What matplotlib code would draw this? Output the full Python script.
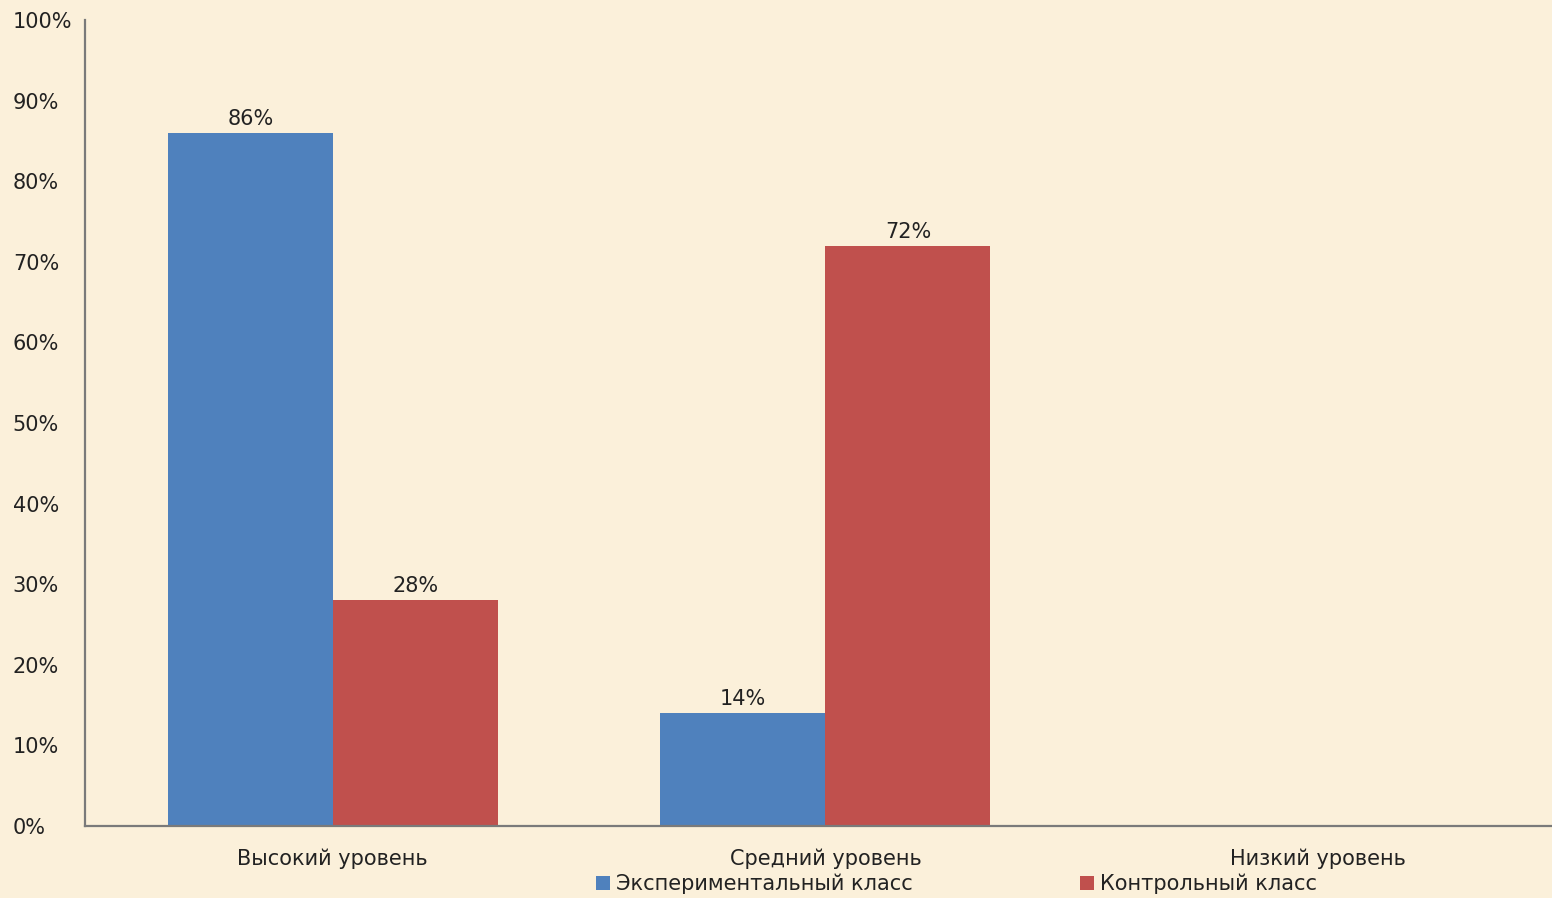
import matplotlib.pyplot as plt
import numpy as np

# Данные диаграммы
categories = ["Высокий уровень", "Средний уровень", "Низкий уровень"]
experimental = [86, 14, 0]
control = [28, 72, 0]
series_names = ["Экспериментальный класс", "Контрольный класс"]
yticks = [0, 10, 20, 30, 40, 50, 60, 70, 80, 90, 100]

plt.rcParams['font.family'] = ['DejaVu Sans']

bg = '#FBF0DA'
blue = '#4F81BD'
red = '#C0504D'
fs = 15

fig = plt.figure(figsize=(15.52, 8.98), dpi=100, facecolor=bg)
ax = fig.add_axes([85 / 1552, 1 - 826 / 898, 1 - 85 / 1552, (826 - 20) / 898])
ax.set_facecolor(bg)

x = np.arange(len(categories))
width = 0.335

bars1 = ax.bar(x - width / 2, experimental, width, color=blue, label=series_names[0])
bars2 = ax.bar(x + width / 2, control, width, color=red, label=series_names[1])

# Подписи значений (без нулевых)
for bars, vals in [(bars1, experimental), (bars2, control)]:
    ax.bar_label(bars, labels=[f'{v}%' if v else '' for v in vals],
                 padding=3, fontsize=fs, color='#222222')

ax.set_xlim(-0.503, 2.475)
ax.set_ylim(0, 100)
ax.set_xticks(x)
ax.set_xticklabels(categories, fontsize=fs, color='#222222')
ax.set_yticks(yticks)
ax.set_yticklabels([f'{t}%' for t in yticks], fontsize=fs, color='#222222', ha='left')
ax.tick_params(axis='x', length=0, pad=16)
ax.tick_params(axis='y', length=0, pad=52)

for s in ['top', 'right']:
    ax.spines[s].set_visible(False)
for s in ['left', 'bottom']:
    ax.spines[s].set_color('#7a7a7a')
    ax.spines[s].set_linewidth(1.6)

fig.legend(loc='upper left', bbox_to_anchor=(596 / 1552, 1 - 874 / 898), ncol=2,
           frameon=False, fontsize=fs, borderpad=0, borderaxespad=0,
           handlelength=0.68, handleheight=0.68, handletextpad=0.3,
           columnspacing=8.0, labelcolor='#222222')

plt.savefig('out.png', dpi=100, facecolor=bg)
